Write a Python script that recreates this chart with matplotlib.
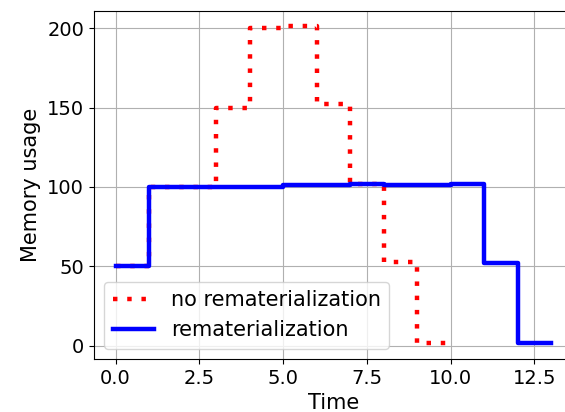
import matplotlib
matplotlib.use('Agg')
import matplotlib.pyplot as plt

# memory usage per time step (step plot, value held until next step)
time_noremat = [0, 1, 2, 3, 4, 5, 6, 7, 8, 9, 10]
mem_noremat = [50, 100, 100, 150, 200, 201.5, 152.5, 102, 53, 2, 2]

time_remat = [0, 1, 2, 3, 4, 5, 6, 7, 8, 9, 10, 11, 12, 13]
mem_remat = [50, 100, 100, 100, 100, 101, 101, 102, 101, 101, 102, 52, 2, 2]

xticks = [0.0, 2.5, 5.0, 7.5, 10.0, 12.5]
yticks = [0, 50, 100, 150, 200]

plt.rcParams['font.size'] = 14

fig = plt.figure(figsize=(5.65, 4.12), dpi=100)
# right edge of the axes sits just outside the picture, as in the cropped original
ax = fig.add_axes([0.166, 0.1286, 0.848, 0.8447])

ax.step(time_noremat, mem_noremat, where='post', color='red', lw=3.2,
        linestyle=(0, (1, 2.2)), label='no rematerialization')
ax.step(time_remat, mem_remat, where='post', color='blue', lw=3.2,
        label='rematerialization')

ax.set_xticks(xticks)
ax.set_yticks(yticks)
ax.set_xlim(-0.65, 13.65)
ax.set_ylim(-8.4, 210.9)
ax.grid(True)
ax.set_xlabel('Time', fontsize=15)
ax.set_ylabel('Memory usage', fontsize=15)
ax.legend(loc='lower left', fontsize=15)

plt.savefig('out.png', dpi=100)
